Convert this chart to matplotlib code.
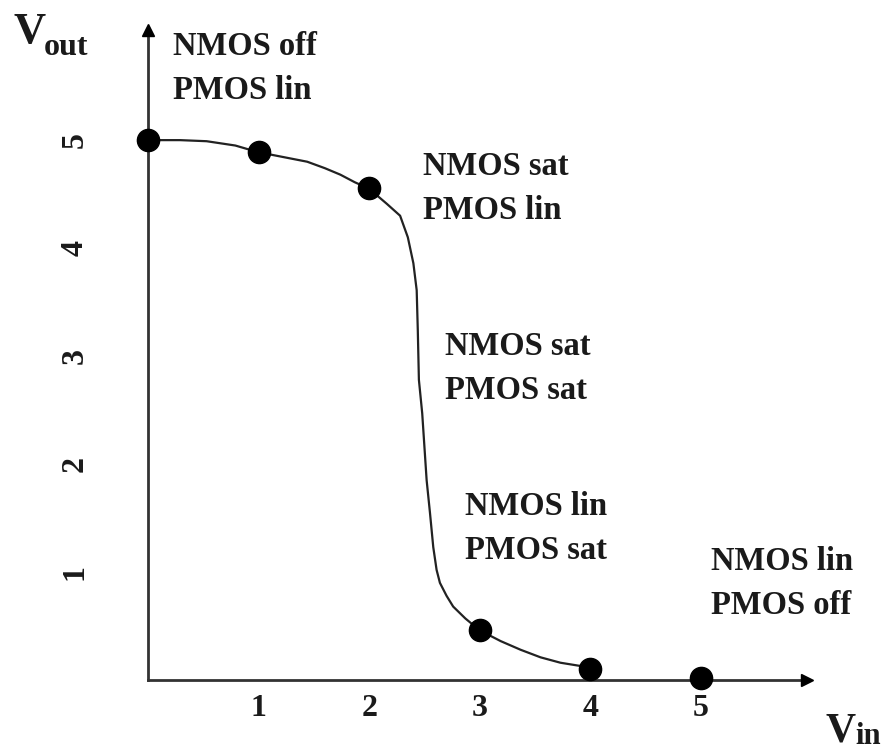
import matplotlib.pyplot as plt

# CMOS inverter transfer curve
vin_curve = [0.0, 0.29, 0.53, 0.79, 0.99, 1.24, 1.44, 1.60, 1.74, 1.87, 1.98,
             2.08, 2.16, 2.28, 2.35, 2.40, 2.43, 2.44, 2.45, 2.48, 2.50, 2.52,
             2.55, 2.58, 2.61, 2.64, 2.70, 2.76, 2.87, 3.00, 3.19, 3.37, 3.55,
             3.73, 4.03]
vout_curve = [5.0, 5.0, 4.99, 4.95, 4.89, 4.84, 4.80, 4.74, 4.68, 4.61, 4.56,
              4.48, 4.41, 4.30, 4.10, 3.86, 3.61, 3.24, 2.78, 2.47, 2.16, 1.85,
              1.55, 1.23, 1.02, 0.90, 0.78, 0.68, 0.57, 0.46, 0.36, 0.28, 0.21,
              0.16, 0.11]

# marked operating points
vin_pts = [0, 1, 2, 3, 4, 5]
vout_pts = [5.0, 4.89, 4.56, 0.46, 0.10, 0.02]

ticks = [1, 2, 3, 4, 5]

# region names, one pair of lines per region
regions = [("NMOS off", "PMOS lin"),
           ("NMOS sat", "PMOS lin"),
           ("NMOS sat", "PMOS sat"),
           ("NMOS lin", "PMOS sat"),
           ("NMOS lin", "PMOS off")]
# where each pair sits (data coords of first-line baseline)
region_xy = [(0.23, 5.79), (2.49, 4.68), (2.69, 3.01), (2.87, 1.53), (5.09, 1.02)]
line_gap = 0.41

W, H = 891, 752
fig = plt.figure(figsize=(W / 100, H / 100), dpi=100)
ax = fig.add_axes([148 / W, 72 / H, 659 / W, 650 / H])

font = dict(family='Liberation Serif', weight='bold', color='#1a1a1a')
axc = '#333333'

ax.plot(vin_curve, vout_curve, color='#222222', lw=1.6, zorder=2,
        solid_joinstyle='round', solid_capstyle='round')
ax.plot(vin_pts, vout_pts, 'o', color='black', ms=16, zorder=3, clip_on=False)

ax.set_xlim(0, 5.96)
ax.set_ylim(0, 6.02)
for s in ['top', 'right']:
    ax.spines[s].set_visible(False)
for s in ['left', 'bottom']:
    ax.spines[s].set_color(axc)
    ax.spines[s].set_linewidth(2)
    ax.spines[s].set_zorder(1)

# arrow heads
ax.plot(1, 0, '>', color='black', ms=8, transform=ax.transAxes, clip_on=False)
ax.plot(0, 1, '^', color='black', ms=8, transform=ax.transAxes, clip_on=False)

ax.set_xticks(ticks)
ax.set_yticks(ticks)
ax.set_xticklabels([str(t) for t in ticks], fontsize=23, **font)
ax.set_yticklabels([str(t) for t in ticks], fontsize=23, rotation=90,
                   va='center', **font)
ax.tick_params(axis='x', length=0, pad=10)
ax.tick_params(axis='y', length=0, pad=42)

for (l1, l2), (x, y) in zip(regions, region_xy):
    ax.text(x, y, l1, fontsize=23.5, va='baseline', ha='left', clip_on=False, **font)
    ax.text(x, y - line_gap, l2, fontsize=23.5, va='baseline', ha='left',
            clip_on=False, **font)

# axis names
fig.text(13 / W, 1 - 43 / H, 'V', fontsize=32, va='baseline', **font)
fig.text(44 / W, 1 - 55 / H, 'out', fontsize=23, va='baseline', **font)
fig.text(826 / W, 1 - 741 / H, 'V', fontsize=30, va='baseline', **font)
fig.text(855 / W, 1 - 744 / H, 'in', fontsize=22, va='baseline', **font)

fig.savefig('out.png', dpi=100, facecolor='white')
